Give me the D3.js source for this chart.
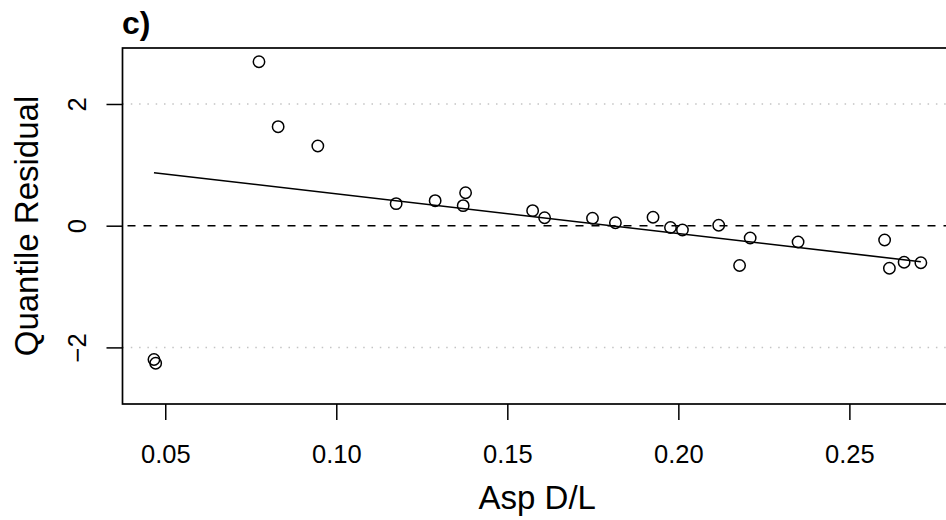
<!DOCTYPE html>
<html>
<head>
<meta charset="utf-8">
<script src="https://cdn.jsdelivr.net/npm/d3@7"></script>
<style>
  html, body { margin: 0; padding: 0; background: #fff; }
  svg { display: block; font-family: "Liberation Sans", Arial, Helvetica, sans-serif; }
</style>
</head>
<body>
<svg id="chart" width="946" height="520"></svg>
<script>
// ---- data ----
const aspDL = [0.0467, 0.0472, 0.0774, 0.0830, 0.0946, 0.1175, 0.1289, 0.1371, 0.1378, 0.1574,
               0.1609, 0.1749, 0.1816, 0.1926, 0.1977, 0.2012, 0.2118, 0.2179, 0.2210, 0.2350,
               0.2603, 0.2617, 0.2660, 0.2709];
const quantileResidual = [-2.199, -2.261, 2.695, 1.627, 1.310, 0.362, 0.411, 0.329, 0.542, 0.247,
                          0.130, 0.122, 0.048, 0.138, -0.030, -0.071, 0.008, -0.654, -0.202, -0.268,
                          -0.235, -0.700, -0.601, -0.608];
const fitX = [0.0467, 0.2709];
const fitY = [0.871, -0.592];
const xTicks = [0.05, 0.10, 0.15, 0.20, 0.25];
const yTicks = [-2, 0, 2];
const gridY = [-2, 2];
const refY = [0];
const panelLabel = "c)";
const xTitle = "Asp D/L";
const yTitle = "Quantile Residual";

// ---- layout ----
const svg = d3.select("#chart");
const L = 122.5, R = 952, T = 48, B = 404;
const x = d3.scaleLinear().domain([0.0375, 0.2800]).range([L, R]);
const y = d3.scaleLinear().domain([-2.93, 2.92]).range([B, T]);

// gridlines (dotted)
svg.append("g").selectAll("line").data(gridY).join("line")
  .attr("x1", L).attr("x2", R)
  .attr("y1", d => y(d)).attr("y2", d => y(d))
  .attr("stroke", "#c4c4c4").attr("stroke-width", 1.5)
  .attr("stroke-dasharray", "1.5,6.8");

// reference dashed line
svg.append("g").selectAll("line").data(refY).join("line")
  .attr("x1", L).attr("x2", R)
  .attr("y1", d => y(d)).attr("y2", d => y(d))
  .attr("stroke", "#000").attr("stroke-width", 1.6)
  .attr("stroke-dasharray", "8,8").attr("stroke-dashoffset", -5);

// fitted line
const fit = fitX.map((v, i) => [v, fitY[i]]);
svg.append("path").datum(fit)
  .attr("d", d3.line().x(d => x(d[0])).y(d => y(d[1])))
  .attr("fill", "none").attr("stroke", "#000").attr("stroke-width", 1.6);

// points
svg.append("g").selectAll("circle").data(aspDL.map((v, i) => [v, quantileResidual[i]])).join("circle")
  .attr("cx", d => x(d[0])).attr("cy", d => y(d[1])).attr("r", 5.7)
  .attr("fill", "none").attr("stroke", "#000").attr("stroke-width", 1.5);

// box
svg.append("rect").attr("x", L).attr("y", T).attr("width", R - L).attr("height", B - T)
  .attr("fill", "none").attr("stroke", "#000").attr("stroke-width", 1.7);

// x axis
const xAxis = d3.axisBottom(x).tickValues(xTicks).tickSize(16).tickSizeOuter(0)
  .tickFormat(d3.format(".2f"));
const gx = svg.append("g").attr("transform", `translate(0,${B})`).call(xAxis);
gx.select(".domain").remove();
gx.selectAll(".tick line").attr("stroke", "#000").attr("stroke-width", 1.5);
gx.selectAll(".tick text").attr("font-size", 25.5).attr("fill", "#000")
  .attr("y", 0).attr("dy", 0).attr("transform", "translate(0,59)");

// y axis
const yAxis = d3.axisLeft(y).tickValues(yTicks).tickSize(16).tickSizeOuter(0)
  .tickFormat(d => d < 0 ? "\u2212" + Math.abs(d) : String(d));
const gy = svg.append("g").attr("transform", `translate(${L},0)`).call(yAxis);
gy.select(".domain").remove();
gy.selectAll(".tick line").attr("stroke", "#000").attr("stroke-width", 1.5);
gy.selectAll(".tick text").attr("font-size", 25.5).attr("fill", "#000")
  .attr("x", 0).attr("dy", 0).attr("text-anchor", "middle")
  .attr("transform", "translate(-37,0) rotate(-90)");

// titles
svg.append("text").attr("x", (L + R) / 2).attr("y", 509)
  .attr("text-anchor", "middle").attr("font-size", 33).attr("fill", "#000").text(xTitle);
svg.append("text").attr("transform", `translate(38,${(T + B) / 2}) rotate(-90)`)
  .attr("text-anchor", "middle").attr("font-size", 33).attr("fill", "#000").text(yTitle);
svg.append("text").attr("x", 122).attr("y", 34)
  .attr("font-size", 32).attr("font-weight", "bold").attr("fill", "#000").text(panelLabel);
</script>
</body>
</html>
